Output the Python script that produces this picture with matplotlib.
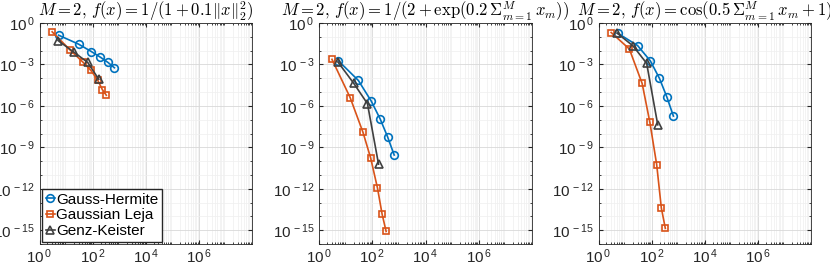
import matplotlib
matplotlib.use("Agg")
import matplotlib.pyplot as plt
import numpy as np
from matplotlib.ticker import FixedLocator, LogLocator, NullFormatter

plt.rcParams["font.family"] = ["Liberation Sans", "DejaVu Sans"]
plt.rcParams["mathtext.fontset"] = "custom"
plt.rcParams["mathtext.rm"] = "Liberation Sans"
plt.rcParams["mathtext.it"] = "Liberation Sans:italic"

# numero de puntos por metodo (mismo en los tres paneles)
n_gh = [5.2, 29.5, 90, 197, 375, 660]
n_gl = [3.0, 14.5, 44, 86, 155, 232, 328]
n_gk = [5.0, 20, 65, 170]

# log10 del error, panel por panel
titulos = [r"$M=2,\, f(x)=1/(1+0.1\|x\|_2^2)$",
           r"$M=2,\, f(x)=1/(2+\exp(0.2\,\Sigma_{m=1}^{M}\,x_m))$",
           r"$M=2,\, f(x)=\cos(0.5\,\Sigma_{m=1}^{M}\,x_m+1)$"]
err_gh = [[-0.88, -1.53, -2.07, -2.48, -2.85, -3.24],
          [-2.73, -4.16, -5.65, -6.96, -8.26, -9.56],
          [-0.73, -1.63, -2.75, -4.01, -5.36, -6.74]]
err_gl = [[-0.64, -1.97, -2.85, -3.43, -4.14, -4.82, -5.23],
          [-2.63, -5.40, -7.91, -9.78, -11.95, -13.85, -15.09],
          [-0.69, -1.88, -4.38, -7.20, -10.25, -13.39, -14.87]]
err_gk = [[-1.27, -2.12, -2.85, -4.07],
          [-2.82, -4.38, -5.84, -10.22],
          [-0.73, -1.66, -2.92, -7.37]]
metodos = ["Gauss-Hermite", "Gaussian Leja", "Genz-Keister"]

AZUL = "#0072BD"
NARANJA = "#D95319"
GRIS = "#404040"

fig = plt.figure(figsize=(8.3, 2.66), dpi=100)
lefts = [39.5, 319.3, 598.5]
for k in range(3):
    ax = fig.add_axes([lefts[k] / 830, 22 / 266, 212.5 / 830, 221 / 266])
    ax.plot(n_gh, 10.0 ** np.array(err_gh[k]), "-o", color=AZUL, mfc="none",
            ms=5.5, lw=1.2, mew=1.2, label=metodos[0])
    ax.plot(n_gl, 10.0 ** np.array(err_gl[k]), "-s", color=NARANJA, mfc="none",
            ms=4.5, lw=1.2, mew=1.2, label=metodos[1])
    ax.plot(n_gk, 10.0 ** np.array(err_gk[k]), "-^", color=GRIS, mfc="none",
            ms=6, lw=1.2, mew=1.2, label=metodos[2])
    ax.set_xscale("log")
    ax.set_yscale("log")
    ax.set_xlim(1, 1e8)
    ax.set_ylim(1e-16, 1)
    ax.xaxis.set_major_locator(FixedLocator([1e0, 1e2, 1e4, 1e6]))
    ax.set_xticklabels([r"$10^{\,0}$", r"$10^{\,2}$", r"$10^{\,4}$", r"$10^{\,6}$"])
    ax.yaxis.set_major_locator(FixedLocator([10.0 ** e for e in range(-15, 1, 3)]))
    ax.set_yticklabels([rf"$10^{{\,{e}}}$" for e in range(-15, 1, 3)])
    ax.xaxis.set_minor_locator(LogLocator(base=10, subs=np.arange(2, 10), numticks=20))
    ax.yaxis.set_minor_locator(FixedLocator([10.0 ** e for e in range(-16, 1)]))
    ax.xaxis.set_minor_formatter(NullFormatter())
    ax.yaxis.set_minor_formatter(NullFormatter())
    ax.grid(True, which="major", color="#d8d8d8", lw=0.6)
    ax.grid(True, which="minor", color="#efefef", lw=0.5)
    ax.set_axisbelow(True)
    ax.tick_params(which="both", direction="in", top=True, right=True,
                   labelsize=11, colors="#262626", length=3)
    ax.tick_params(axis="x", pad=2.5)
    ax.tick_params(which="minor", length=1.5)
    for s in ax.spines.values():
        s.set_color("#262626")
        s.set_linewidth(0.6)
    ax.set_title(titulos[k], fontsize=12, math_fontfamily="cm", pad=3)
    if k == 0:
        ax.legend(loc="lower left", fontsize=11, handlelength=0.6,
                  handletextpad=0.1, borderpad=0.25, labelspacing=0.1,
                  fancybox=False, edgecolor="#262626", framealpha=1,
                  borderaxespad=0.15)

fig.savefig("out.png", dpi=100)
